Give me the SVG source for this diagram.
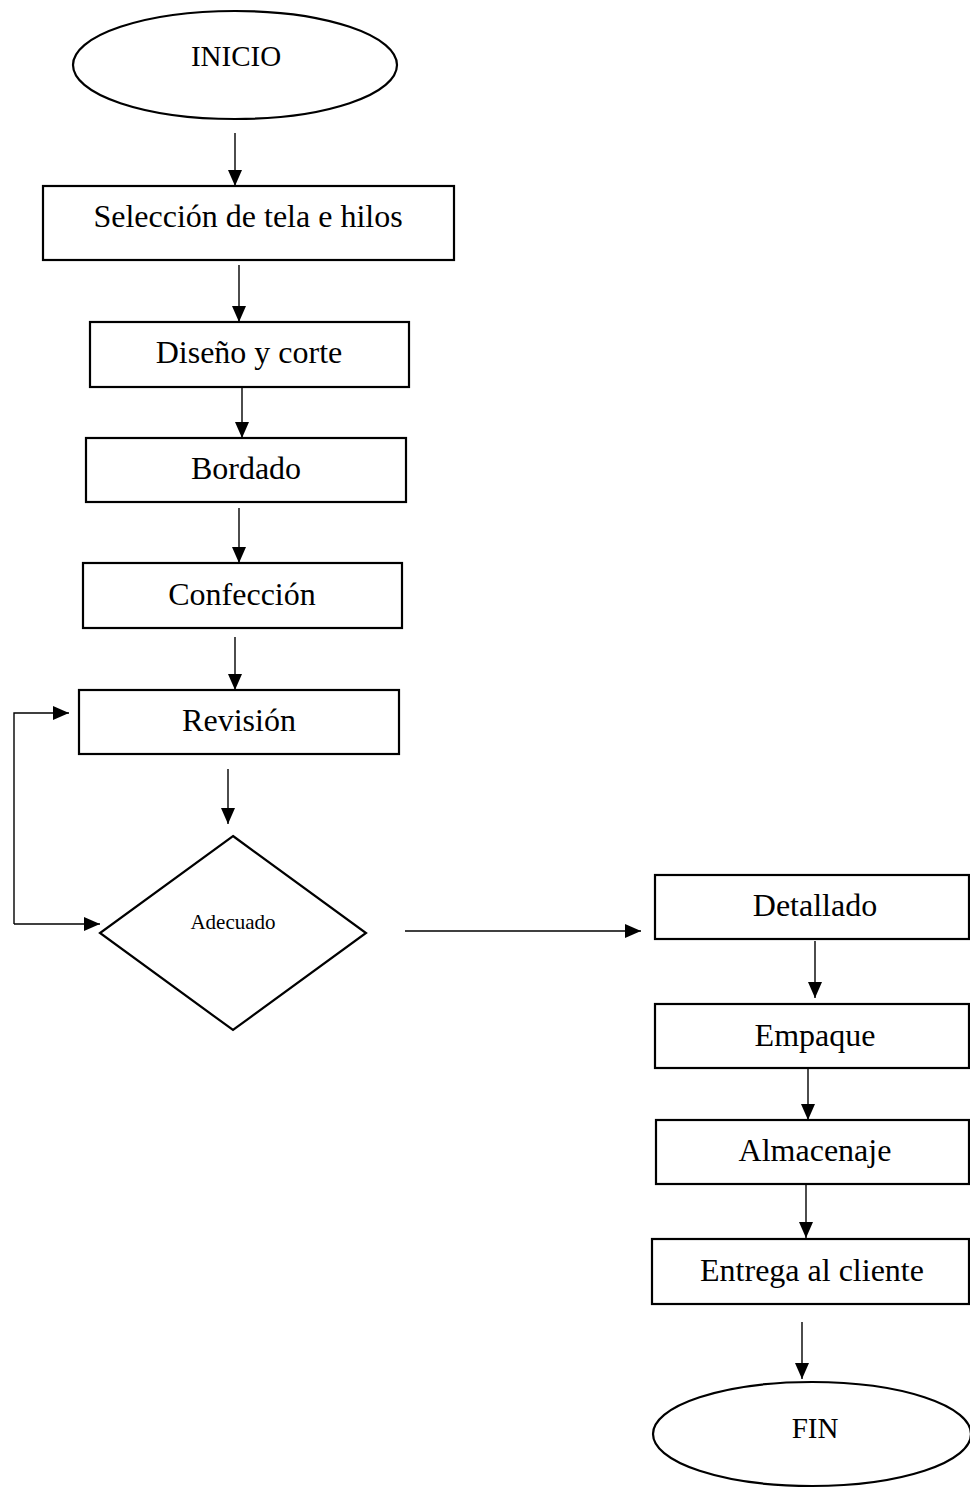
<svg xmlns="http://www.w3.org/2000/svg" width="970" height="1488" viewBox="0 0 970 1488">
  <style>
    .shape { fill: #ffffff; stroke: #000000; stroke-width: 2.2; }
    .label { font-family: "Liberation Serif", "Times New Roman", serif; font-size: 32px; fill: #000000; text-anchor: middle; }
    .term { font-size: 29px; }
    .small { font-size: 21px; }
    .link { fill: none; stroke: #000000; stroke-width: 1.4; }
    .arrow { marker-end: url(#head); }
  </style>
  <defs>
    <marker id="head" markerUnits="userSpaceOnUse" markerWidth="17" markerHeight="16" viewBox="0 0 17 16" refX="16" refY="8" orient="auto">
      <path d="M0,1 L16,8 L0,15 Z" fill="#000000"/>
    </marker>
  </defs>

  <rect width="970" height="1488" fill="#ffffff"/>

  <!-- start terminal -->
  <g id="inicio">
    <ellipse class="shape" cx="235" cy="65" rx="162" ry="54"/>
    <text class="label term" x="236" y="66">INICIO</text>
  </g>

  <!-- left column of process steps -->
  <g id="seleccion">
    <rect class="shape" x="43" y="186" width="411" height="74"/>
    <text class="label" x="248" y="227">Selección de tela e hilos</text>
  </g>
  <g id="diseno">
    <rect class="shape" x="90" y="322" width="319" height="65"/>
    <text class="label" x="249" y="363">Diseño y corte</text>
  </g>
  <g id="bordado">
    <rect class="shape" x="86" y="438" width="320" height="64"/>
    <text class="label" x="246" y="479">Bordado</text>
  </g>
  <g id="confeccion">
    <rect class="shape" x="83" y="563" width="319" height="65"/>
    <text class="label" x="242" y="605">Confección</text>
  </g>
  <g id="revision">
    <rect class="shape" x="79" y="690" width="320" height="64"/>
    <text class="label" x="239" y="731">Revisión</text>
  </g>

  <!-- decision -->
  <g id="adecuado">
    <polygon class="shape" points="233,836 366,933 233,1030 100,933"/>
    <text class="label small" x="233" y="929">Adecuado</text>
  </g>

  <!-- right column of process steps -->
  <g id="detallado">
    <rect class="shape" x="655" y="875" width="314" height="64"/>
    <text class="label" x="815" y="916">Detallado</text>
  </g>
  <g id="empaque">
    <rect class="shape" x="655" y="1004" width="314" height="64"/>
    <text class="label" x="815" y="1046">Empaque</text>
  </g>
  <g id="almacenaje">
    <rect class="shape" x="656" y="1120" width="313" height="64"/>
    <text class="label" x="815" y="1161">Almacenaje</text>
  </g>
  <g id="entrega">
    <rect class="shape" x="652" y="1239" width="317" height="65"/>
    <text class="label" x="812" y="1281">Entrega al cliente</text>
  </g>

  <!-- end terminal -->
  <g id="fin">
    <ellipse class="shape" cx="812" cy="1434" rx="159" ry="52"/>
    <text class="label term" x="815" y="1438">FIN</text>
  </g>

  <!-- connectors -->
  <g id="connectors">
    <line class="link arrow" x1="235" y1="133" x2="235" y2="186"/>
    <line class="link arrow" x1="239" y1="265" x2="239" y2="322"/>
    <line class="link arrow" x1="242" y1="387" x2="242" y2="438"/>
    <line class="link arrow" x1="239" y1="508" x2="239" y2="563"/>
    <line class="link arrow" x1="235" y1="637" x2="235" y2="690"/>
    <line class="link arrow" x1="228" y1="769" x2="228" y2="824"/>
    <!-- feedback loop back to the review step -->
    <polyline class="link arrow" points="14,924 14,713 69,713"/>
    <line class="link arrow" x1="14" y1="924" x2="100" y2="924"/>
    <line class="link arrow" x1="405" y1="931" x2="641" y2="931"/>
    <line class="link arrow" x1="815" y1="941" x2="815" y2="998"/>
    <line class="link arrow" x1="808" y1="1069" x2="808" y2="1120"/>
    <line class="link arrow" x1="806" y1="1184" x2="806" y2="1238"/>
    <line class="link arrow" x1="802" y1="1322" x2="802" y2="1379"/>
  </g>
</svg>
